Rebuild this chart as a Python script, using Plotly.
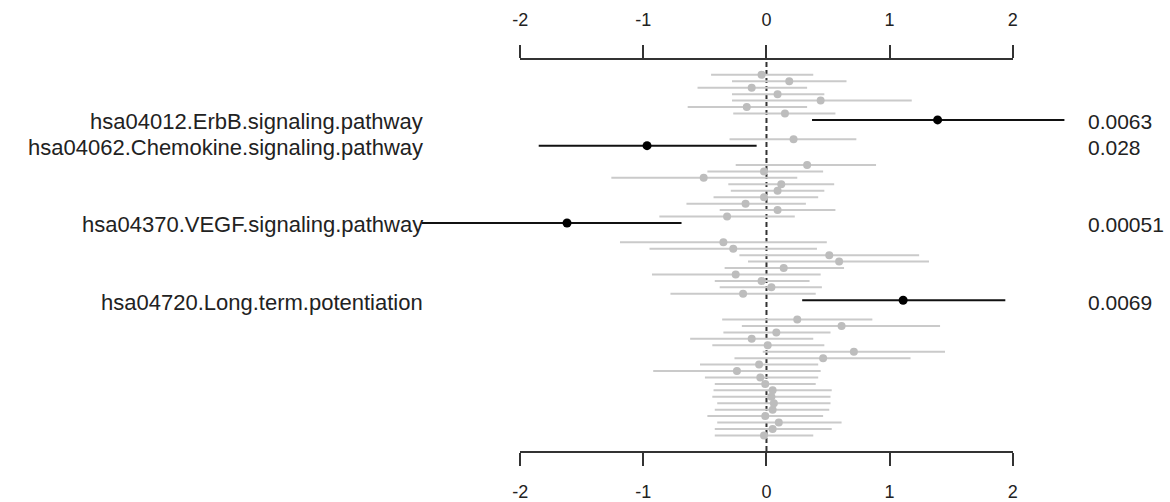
import plotly.graph_objects as go

# ---------------- data (row order top -> bottom; None = empty row) ----------------
estimate = [-0.04, 0.185, -0.12, 0.09, 0.44, -0.16, 0.15, 1.39, None, None,
            0.22, -0.97, None, None, 0.33, -0.02, -0.51, 0.12, 0.09, -0.02,
            -0.17, 0.09, -0.32, -1.62, None, None, -0.35, -0.27, 0.51, 0.59,
            0.14, -0.25, -0.04, 0.04, -0.19, 1.11, None, None, 0.25, 0.61,
            0.08, -0.12, 0.01, 0.71, 0.46, -0.06, -0.24, -0.05, -0.01, 0.05,
            0.04, 0.06, 0.05, -0.01, 0.10, 0.05, -0.02]
lower = [-0.45, -0.28, -0.56, -0.28, -0.28, -0.64, -0.27, 0.37, None, None,
         -0.30, -1.85, None, None, -0.25, -0.48, -1.26, -0.31, -0.29, -0.43,
         -0.65, -0.38, -0.87, -2.80, None, None, -1.19, -0.95, -0.22, -0.15,
         -0.34, -0.93, -0.42, -0.38, -0.78, 0.29, None, None, -0.36, -0.20,
         -0.35, -0.62, -0.44, -0.03, -0.26, -0.54, -0.92, -0.50, -0.42, -0.43,
         -0.44, -0.40, -0.42, -0.48, -0.40, -0.42, -0.42]
upper = [0.38, 0.65, 0.33, 0.47, 1.18, 0.33, 0.56, 2.42, None, None,
         0.73, -0.08, None, None, 0.89, 0.46, 0.25, 0.55, 0.47, 0.42,
         0.32, 0.56, 0.23, -0.69, None, None, 0.49, 0.41, 1.24, 1.32,
         0.63, 0.44, 0.35, 0.45, 0.40, 1.94, None, None, 0.86, 1.41,
         0.52, 0.38, 0.47, 1.45, 1.17, 0.42, 0.44, 0.42, 0.40, 0.53,
         0.52, 0.52, 0.51, 0.46, 0.61, 0.53, 0.38]

sig_rows = [8, 12, 24, 36]
sig_labels = ["hsa04012.ErbB.signaling.pathway",
              "hsa04062.Chemokine.signaling.pathway",
              "hsa04370.VEGF.signaling.pathway",
              "hsa04720.Long.term.potentiation"]
sig_pvals = ["0.0063", "0.028", "0.00051", "0.0069"]

tick_vals = [-2, -1, 0, 1, 2]
tick_text = ["-2", "-1", "0", "1", "2"]

# ---------------- layout constants ----------------
W, H = 1170, 502
L_PX, R_PX = 518, 1016          # pixel positions of -2 and 2
TOP_PX, BOT_PX = 60, 455        # axis lines
FIRST_ROW_PX, ROW_STEP = 75, 6.505
unit = (R_PX - L_PX) / 4.0
x_range = [-2 - L_PX / unit, 2 + (W - R_PX) / unit]
n_rows = len(estimate)
y_top = 1 - (FIRST_ROW_PX - TOP_PX) / ROW_STEP
y_bot = 1 + (BOT_PX - FIRST_ROW_PX) / ROW_STEP

GRAY_LINE = "#CACACA"
GRAY_DOT = "#BDBDBD"
BLACK = "#111111"
FONT = "Liberation Sans, Arial, sans-serif"

rows = list(range(1, n_rows + 1))

def seg(idx):
    xs, ys = [], []
    for i in idx:
        xs += [lower[i], upper[i], None]
        ys += [rows[i], rows[i], None]
    return xs, ys

valid = [i for i in range(n_rows) if estimate[i] is not None]
sig_idx = [r - 1 for r in sig_rows]
ns_idx = [i for i in valid if i not in sig_idx]

fig = go.Figure()

gx, gy = seg(ns_idx)
fig.add_trace(go.Scatter(x=gx, y=gy, mode="lines", line=dict(color=GRAY_LINE, width=2),
                         hoverinfo="skip", showlegend=False))
fig.add_trace(go.Scatter(x=[estimate[i] for i in ns_idx], y=[rows[i] for i in ns_idx],
                         mode="markers", marker=dict(color=GRAY_DOT, size=8),
                         showlegend=False))
bx, by = seg(sig_idx)
fig.add_trace(go.Scatter(x=bx, y=by, mode="lines", line=dict(color=BLACK, width=2),
                         hoverinfo="skip", showlegend=False))
fig.add_trace(go.Scatter(x=[estimate[i] for i in sig_idx], y=[rows[i] for i in sig_idx],
                         mode="markers", marker=dict(color="black", size=9),
                         showlegend=False))

# dummy traces so the visible axes render
fig.add_trace(go.Scatter(x=[None], y=[None], xaxis="x2", yaxis="y", showlegend=False, hoverinfo="skip"))
fig.add_trace(go.Scatter(x=[None], y=[None], xaxis="x3", yaxis="y", showlegend=False, hoverinfo="skip"))

axis_style = dict(range=[-2, 2], domain=[L_PX / W, R_PX / W], anchor="y",
                  showline=True, linecolor="#333333", linewidth=2,
                  ticks="outside", ticklen=13, tickwidth=2, tickcolor="#333333",
                  tickvals=tick_vals, ticktext=tick_text,
                  showgrid=False, zeroline=False,
                  tickfont=dict(family=FONT, size=18, color="#222222"))

fig.update_layout(
    width=W, height=H,
    margin=dict(l=0, r=0, t=TOP_PX, b=H - BOT_PX, pad=0),
    paper_bgcolor="white", plot_bgcolor="rgba(0,0,0,0)",
    xaxis=dict(range=x_range, visible=False, domain=[0, 1], anchor="y"),
    xaxis2=dict(side="top", ticklabelstandoff=12, **axis_style),
    xaxis3=dict(side="bottom", ticklabelstandoff=10, **axis_style),
    yaxis=dict(range=[y_bot, y_top], visible=False, domain=[0, 1]),
    showlegend=False,
)

fig.add_shape(type="line", xref="x", yref="paper", x0=0, x1=0, y0=0, y1=1,
              line=dict(color="#333333", width=2, dash="5px,3px"), layer="below")

label_x = -2 - (L_PX - 422) / unit
pval_x = 2 + (1090 - R_PX) / unit
for r, lab, p in zip(sig_rows, sig_labels, sig_pvals):
    fig.add_annotation(x=label_x, y=r, xref="x", yref="y", text=lab, showarrow=False,
                       xanchor="right", yanchor="middle", yshift=-2,
                       font=dict(family=FONT, size=22, color="#222222"))
    fig.add_annotation(x=pval_x, y=r, xref="x", yref="y", text=p, showarrow=False,
                       xanchor="left", yanchor="middle", yshift=-2,
                       font=dict(family=FONT, size=21, color="#222222"))

fig.write_html("out.html",
               config={"displayModeBar": False},
               post_script="document.body.style.margin='0';document.body.style.padding='0';")
